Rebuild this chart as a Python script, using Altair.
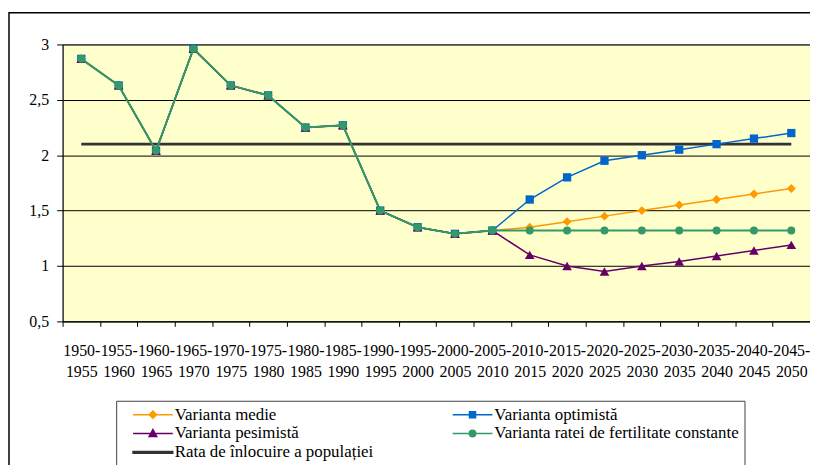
import altair as alt
import pandas as pd

cats = ["1950-1955", "1955-1960", "1960-1965", "1965-1970", "1970-1975",
        "1975-1980", "1980-1985", "1985-1990", "1990-1995", "1995-2000",
        "2000-2005", "2005-2010", "2010-2015", "2015-2020", "2020-2025",
        "2025-2030", "2030-2035", "2035-2040", "2040-2045", "2045-2050"]

hist = [2.87, 2.63, 2.04, 2.96, 2.63, 2.54, 2.25, 2.27, 1.50, 1.35, 1.29, 1.32]
medie = [1.35, 1.40, 1.45, 1.50, 1.55, 1.60, 1.65, 1.70]
optimista = [1.60, 1.80, 1.95, 2.00, 2.05, 2.10, 2.15, 2.20]
pesimista = [1.10, 1.00, 0.95, 1.00, 1.04, 1.09, 1.14, 1.19]
constanta = [1.32, 1.32, 1.32, 1.32, 1.32, 1.32, 1.32, 1.32]
rata = [2.1] * 20

names = ["Varianta medie", "Varianta optimistă", "Varianta pesimistă",
         "Varianta ratei de fertilitate constante", "Rata de înlocuire a populației"]
colors = ["#FF9900", "#0066CC", "#660066", "#339966", "#333333"]

series_vals = {
    names[0]: hist + medie,
    names[1]: hist + optimista,
    names[2]: hist + pesimista,
    names[3]: hist + constanta,
    names[4]: rata,
}

rows = []
for s, vals in series_vals.items():
    for c, v in zip(cats, vals):
        rows.append({"cat": c, "val": v, "series": s})
df = pd.DataFrame(rows)

SERIF = "Liberation Serif, Times New Roman, Times, serif"

x_enc = alt.X("cat:N", sort=cats, bandPosition=0.5,
              scale=alt.Scale(type="band", domain=cats, paddingInner=0, paddingOuter=0),
              axis=alt.Axis(title=None, tickBand="extent", labelAngle=0, labelOverlap=False,
                            labelExpr="[slice(datum.label,0,5), slice(datum.label,5)]",
                            labelFont=SERIF, labelFontSize=16, labelColor="black",
                            labelLineHeight=22, labelPadding=16,
                            domainColor="black", tickColor="black", tickSize=5,
                            grid=False))
y_enc = alt.Y("val:Q",
              scale=alt.Scale(domain=[0.5, 3], nice=False, zero=False),
              axis=alt.Axis(title=None, values=[0.5, 1, 1.5, 2, 2.5, 3],
                            labelExpr="replace(format(datum.value, '.1~f'), '.', ',')",
                            labelFont=SERIF, labelFontSize=16, labelColor="black",
                            labelPadding=8, domainColor="black", tickColor="black",
                            tickSize=6, grid=True, gridColor="black", gridWidth=1))

base = alt.Chart(df)

layers = []
# replacement rate line (under the others)
layers.append(base.transform_filter(alt.datum.series == names[4])
              .mark_line(color=colors[4], strokeWidth=3)
              .encode(x=x_enc, y=y_enc))

shapes = ["diamond", "square", "triangle-up", "circle"]
sizes = [80, 70, 95, 64]
widths = [1.5, 1.5, 1.5, 2]
for i in range(4):
    sub = base.transform_filter(alt.datum.series == names[i])
    layers.append(sub.mark_line(color=colors[i], strokeWidth=widths[i]).encode(x=x_enc, y=y_enc))
    layers.append(sub.mark_point(shape=shapes[i], filled=True, size=sizes[i], color=colors[i],
                                 opacity=1).encode(x=x_enc, y=y_enc))

# legend layer (no visible marks; legend from explicit domains)
legend_paths = [
    "M-2.5,0H2.5M0,-0.45L0.45,0L0,0.45L-0.45,0Z",
    "M-2.5,0H2.5M-0.38,-0.38H0.38V0.38H-0.38Z",
    "M-2.5,0H2.5M0,-0.5L0.48,0.38H-0.48Z",
    "M-2.5,0H2.5M-0.4,0A0.4,0.4 0 1,0 0.4,0A0.4,0.4 0 1,0 -0.4,0Z",
    "M-2.5,-0.1H2.5V0.1H-2.5Z",
]
leg = alt.Legend(title=None, orient="none", legendX=54, legendY=359, columns=2,
                 direction="horizontal",
                 columnPadding=67, rowPadding=2, padding=5, strokeColor="#404040",
                 labelFont=SERIF, labelFontSize=17, labelColor="black", labelOffset=13,
                 labelExpr="datum.label + '  '",
                 symbolOffset=23, symbolSize=256, symbolStrokeWidth=1.5, symbolOpacity=1,
                 labelLimit=400)
legend_layer = base.transform_filter("false").mark_point(filled=True, opacity=1, size=256).encode(
    x=x_enc, y=y_enc,
    fill=alt.Fill("series:N", scale=alt.Scale(domain=names, range=colors), legend=leg),
    stroke=alt.Stroke("series:N", scale=alt.Scale(domain=names, range=colors), legend=leg),
    shape=alt.Shape("series:N", scale=alt.Scale(domain=names, range=legend_paths), legend=leg),
)
layers.append(legend_layer)

border = alt.Chart(pd.DataFrame({"b": [0]})).mark_rect(
    fillOpacity=0, stroke="black", strokeWidth=1.5
).encode(x=alt.value(-54), x2=alt.value(900), y=alt.value(-32), y2=alt.value(600))
layers.append(border)

chart = alt.layer(*layers).properties(
    width=753, height=279,
    autosize=alt.AutoSizeParams(type="none"),
    padding={"left": 55, "top": 35, "right": 0, "bottom": 143},
    background="white",
).configure_view(fill="#FFFFCC", stroke="#808080", strokeWidth=1)

chart.save("out.html", embed_options={"renderer": "svg", "actions": False})
